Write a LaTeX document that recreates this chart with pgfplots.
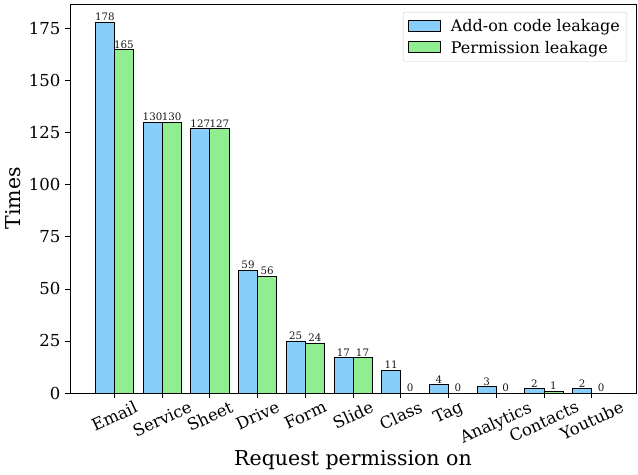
\documentclass[border=0pt]{standalone}
\usepackage{graphicx}
\usepackage{pgfplots}
\pgfplotsset{compat=1.18}
\usepackage{fontspec}
\setmainfont{DejaVu Serif}
\definecolor{cblue}{RGB}{135,206,250}
\definecolor{cgreen}{RGB}{144,238,144}
\begin{document}
\begin{tikzpicture}
\begin{axis}[
  scale only axis, width=566pt, height=389pt,
  xmin=-0.93, xmax=10.93, ymin=0, ymax=186.9,
  ybar=0pt, bar width=0.4,
  xtick={0,...,10},
  xticklabels={\rotatebox{25}{Email},\rotatebox{25}{Service},\rotatebox{25}{Sheet},\rotatebox{25}{Drive},\rotatebox{25}{Form},\rotatebox{25}{Slide},\rotatebox{25}{Class},\rotatebox{25}{Tag},\rotatebox{25}{Analytics},\rotatebox{25}{Contacts},\rotatebox{25}{Youtube}},
  ytick={0,25,...,175},
  tick align=outside, xtick pos=bottom, ytick pos=left,
  major tick length=5pt,
  every tick/.style={black, line width=0.8pt},
  axis line style={line width=0.8pt},
  /pgf/number format/assume math mode=true,
  tick label style={font=\fontsize{16.5}{19}\selectfont},
  yticklabel style={xshift=-1pt},
  xticklabel style={anchor=north, inner sep=2pt},
  xlabel={Request permission on}, ylabel={Times},
  label style={font=\fontsize{20.5}{24}\selectfont},
  xlabel style={at={(axis description cs:0.5,0)}, anchor=center, yshift=-67pt},
  ylabel style={at={(axis description cs:-0.0813,0.5)}, anchor=south},
  nodes near coords,
  nodes near coords style={font=\fontsize{10.3}{11}\selectfont, inner sep=1pt, black!90},
  legend style={at={(1,1)}, anchor=north east, xshift=-9pt, yshift=-8pt,
    draw=black!20, rounded corners=2pt, font=\fontsize{16}{19}\selectfont,
    row sep=4pt, inner xsep=5pt, inner ysep=5pt},
  legend cell align=left,
  legend image code/.code={\draw[#1, draw=black, sharp corners] (0pt,-5pt) rectangle (32pt,6pt); \path (40pt,0pt);},
]
\addplot[fill=cblue, draw=black, line width=0.8pt, bar shift=-0.2] coordinates {
(0,178) (1,130) (2,127) (3,59) (4,25) (5,17) (6,11) (7,4) (8,3) (9,2) (10,2)};
\addlegendentry{Add-on code leakage}
\addplot[fill=cgreen, draw=black, line width=0.8pt, bar shift=0.2] coordinates {
(0,165) (1,130) (2,127) (3,56) (4,24) (5,17) (6,0) (7,0) (8,0) (9,1) (10,0)};
\addlegendentry{Permission leakage}
\end{axis}
\path ([shift={(-70pt,-82pt)}]current axis.south west) rectangle ([shift={(2pt,4pt)}]current axis.north east);
\end{tikzpicture}
\end{document}
